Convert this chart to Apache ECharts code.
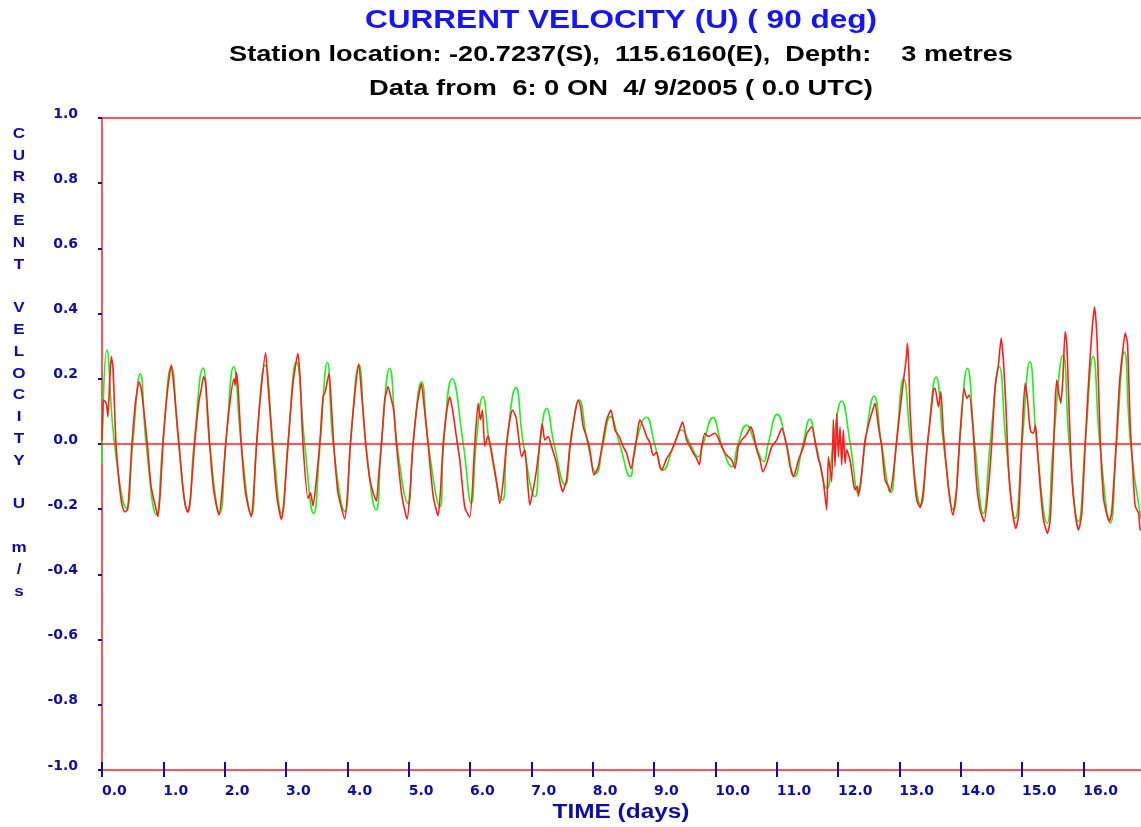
<!DOCTYPE html>
<html>
<head>
<meta charset="utf-8">
<title>Current velocity (U)</title>
<script src="https://cdn.jsdelivr.net/npm/echarts@6/dist/echarts.min.js"></script>
<style>
  html, body { margin: 0; padding: 0; background: #ffffff; }
  #chart { width: 1141px; height: 827px; }
</style>
</head>
<body>
<div id="chart"></div>
<script>
// ---- Text ----
const chartTitle = 'CURRENT VELOCITY (U) ( 90 deg)';
const stationLine = 'Station location: -20.7237(S),  115.6160(E),  Depth:    3 metres';
const periodLine = 'Data from  6: 0 ON  4/ 9/2005 ( 0.0 UTC)';
const xAxisName = 'TIME (days)';
const yNameLetters = ['C','U','R','R','E','N','T','','V','E','L','O','C','I','T','Y','','U','','m','/','s'];

// ---- Axis ranges and ticks (days, m/s) ----
const timeRange = [0, 16.94];
const dayTicks = [0, 1, 2, 3, 4, 5, 6, 7, 8, 9, 10, 11, 12, 13, 14, 15, 16];
const velocityRange = [-1, 1];

// ---- Predicted tidal current, U component [day, m/s] ----
const predicted = [
  [0.0,-0.06],[0.08,0.288],[0.205,0],[0.40,-0.197],[0.50,0],[0.625,0.215],[0.72,0],[0.886,-0.218],
  [0.99,0],[1.13,0.237],[1.25,0],[1.40,-0.205],[1.50,0],[1.646,0.233],[1.755,0],[1.92,-0.212],
  [2.02,0],[2.147,0.237],[2.27,0],[2.435,-0.218],[2.52,0],[2.66,0.242],[2.79,0],[2.93,-0.213],
  [3.03,0],[3.17,0.252],[3.305,0],[3.45,-0.213],[3.555,0],[3.675,0.25],[3.77,0],[3.96,-0.207],
  [4.05,0],[4.19,0.242],[4.30,0],[4.47,-0.202],[4.556,0],[4.69,0.232],[4.81,0],[4.99,-0.182],
  [5.07,0],[5.21,0.191],[5.32,0],[5.51,-0.192],[5.57,0],[5.71,0.2],[5.89,0],[6.02,-0.182],
  [6.10,0],[6.21,0.145],[6.32,0],[6.53,-0.172],[6.60,0],[6.75,0.173],[6.87,0],[7.06,-0.162],
  [7.14,0],[7.25,0.109],[7.37,0],[7.55,-0.126],[7.64,0],[7.78,0.135],[7.92,0],[8.06,-0.09],
  [8.17,0],[8.29,0.084],[8.44,0],[8.61,-0.1],[8.70,0],[8.88,0.082],[9.01,0],[9.15,-0.08],
  [9.33,0],[9.45,0.043],[9.59,0],[9.72,-0.039],[9.80,0],[9.96,0.081],[10.1,0],[10.27,-0.07],
  [10.37,0],[10.51,0.058],[10.65,0],[10.79,-0.054],[10.86,0],[11.01,0.091],[11.16,0],[11.29,-0.1],
  [11.43,0],[11.54,0.076],[11.64,0],[11.82,-0.136],[11.92,0],[12.06,0.132],[12.2,0],[12.33,-0.151],
  [12.44,0],[12.59,0.147],[12.71,0],[12.86,-0.149],[12.95,0],[13.07,0.2],[13.19,0],[13.35,-0.187],
  [13.46,0],[13.6,0.205],[13.72,0],[13.88,-0.202],[13.98,0],[14.11,0.232],[14.23,0],[14.37,-0.213],
  [14.48,0],[14.63,0.237],[14.74,0],[14.89,-0.228],[15.0,0],[15.13,0.252],[15.24,0],[15.41,-0.243],
  [15.51,0],[15.67,0.273],[15.77,0],[15.92,-0.238],[16.03,0],[16.16,0.268],[16.27,0],[16.44,-0.243],
  [16.54,0],[16.67,0.283],[16.77,0],[16.94,-0.23]
];

// ---- Measured current, U component [day, m/s] ----
const observed = [
  [0.0,0.01],[0.01,0.094],[0.026,0.135],[0.07,0.125],[0.097,0.084],[0.124,0.186],[0.151,0.268],[0.178,0.237],
  [0.206,0.104],[0.228,0.0],[0.28,-0.12],[0.33,-0.19],[0.37,-0.208],[0.42,-0.2],[0.488,0.0],[0.54,0.12],
  [0.57,0.16],[0.602,0.191],[0.64,0.17],[0.739,0.0],[0.80,-0.13],[0.87,-0.19],[0.912,-0.223],[0.95,-0.15],
  [0.994,0.0],[1.06,0.15],[1.13,0.242],[1.17,0.18],[1.255,0.0],[1.31,-0.12],[1.36,-0.19],[1.40,-0.21],
  [1.44,-0.17],[1.51,0.0],[1.58,0.13],[1.62,0.17],[1.657,0.207],[1.69,0.19],[1.755,0.0],[1.82,-0.14],
  [1.907,-0.218],[1.95,-0.16],[2.016,0.0],[2.08,0.12],[2.15,0.2],[2.17,0.18],[2.19,0.22],[2.22,0.17],
  [2.27,0.0],[2.34,-0.15],[2.435,-0.223],[2.47,-0.16],[2.52,0.0],[2.59,0.16],[2.668,0.28],[2.70,0.2],
  [2.778,0.0],[2.85,-0.16],[2.924,-0.231],[2.96,-0.19],[3.034,0.0],[3.11,0.18],[3.196,0.278],[3.23,0.2],
  [3.277,0.0],[3.359,-0.167],[3.40,-0.15],[3.441,-0.19],[3.49,-0.12],[3.55,0.0],[3.604,0.145],[3.64,0.16],
  [3.702,0.217],[3.74,0.12],[3.778,0.0],[3.84,-0.14],[3.876,-0.175],[3.958,-0.23],[4.0,-0.16],[4.05,0.0],
  [4.12,0.15],[4.186,0.246],[4.23,0.16],[4.30,0.0],[4.36,-0.1],[4.419,-0.149],[4.474,-0.175],[4.51,-0.1],
  [4.556,0.0],[4.61,0.135],[4.665,0.176],[4.72,0.135],[4.757,0.104],[4.80,0.0],[4.89,-0.16],[4.975,-0.23],
  [5.02,-0.15],[5.072,0.0],[5.14,0.12],[5.208,0.185],[5.25,0.12],[5.317,0.0],[5.40,-0.16],[5.48,-0.22],
  [5.52,-0.14],[5.562,0.0],[5.62,0.1],[5.671,0.145],[5.72,0.1],[5.78,0.02],[5.834,-0.049],[5.915,-0.194],
  [5.997,-0.225],[6.078,0.0],[6.133,0.125],[6.171,0.074],[6.203,0.104],[6.241,-0.006],[6.296,0.025],[6.35,-0.023],
  [6.432,-0.115],[6.486,-0.182],[6.541,-0.115],[6.595,0.0],[6.65,0.074],[6.693,0.104],[6.748,0.084],[6.786,0.033],
  [6.84,-0.039],[6.894,-0.018],[6.938,-0.115],[6.976,-0.187],[7.03,-0.14],[7.085,-0.079],[7.139,0.004],[7.177,0.063],
  [7.22,0.012],[7.275,0.023],[7.329,-0.008],[7.411,-0.059],[7.465,-0.115],[7.509,-0.146],[7.574,-0.11],[7.628,-0.008],
  [7.683,0.063],[7.764,0.135],[7.802,0.114],[7.846,0.053],[7.9,0.023],[7.955,-0.018],[8.02,-0.095],[8.091,-0.07],
  [8.162,0.004],[8.227,0.074],[8.298,0.104],[8.363,0.043],[8.433,0.023],[8.498,-0.008],[8.553,-0.028],[8.624,-0.075],
  [8.689,-0.018],[8.743,0.053],[8.77,0.074],[8.824,0.053],[8.879,0.023],[8.933,0.004],[8.988,-0.035],[9.042,-0.025],
  [9.097,-0.07],[9.124,-0.08],[9.206,-0.045],[9.288,-0.02],[9.34,0.004],[9.397,0.033],[9.466,0.068],[9.532,0.012],
  [9.586,-0.008],[9.64,-0.028],[9.695,-0.044],[9.739,-0.064],[9.777,-0.008],[9.831,0.033],[9.886,0.023],[9.94,0.028],
  [9.994,0.033],[10.048,0.018],[10.103,-0.008],[10.157,-0.028],[10.211,-0.039],[10.266,-0.049],[10.32,-0.075],[10.375,-0.008],
  [10.43,0.012],[10.483,0.023],[10.522,0.033],[10.576,0.053],[10.62,0.033],[10.674,-0.018],[10.729,-0.049],[10.773,-0.085],
  [10.838,-0.059],[10.92,-0.008],[11.0,0.012],[11.083,0.048],[11.165,-0.008],[11.22,-0.07],[11.274,-0.1],[11.356,-0.049],
  [11.438,-0.008],[11.492,0.033],[11.574,0.053],[11.628,0.004],[11.683,-0.049],[11.706,-0.059],[11.761,-0.115],[11.815,-0.202],
  [11.843,-0.039],[11.897,-0.115],[11.924,0.074],[11.951,-0.069],[11.979,0.094],[12.006,-0.039],[12.033,0.053],[12.06,-0.064],
  [12.087,0.043],[12.115,-0.059],[12.142,-0.018],[12.196,-0.049],[12.251,-0.12],[12.278,-0.14],[12.316,-0.13],[12.332,-0.16],
  [12.387,-0.089],[12.441,0.012],[12.496,0.058],[12.55,0.094],[12.604,0.125],[12.659,0.053],[12.713,-0.008],[12.767,-0.11],
  [12.822,-0.13],[12.849,-0.146],[12.903,-0.089],[12.958,0.012],[13.012,0.104],[13.067,0.196],[13.11,0.257],[13.132,0.309],
  [13.154,0.237],[13.175,0.104],[13.23,-0.07],[13.284,-0.172],[13.339,-0.195],[13.393,-0.14],[13.447,-0.018],[13.502,0.074],
  [13.556,0.166],[13.583,0.171],[13.637,0.114],[13.676,0.161],[13.719,0.033],[13.8,-0.13],[13.871,-0.218],[13.937,-0.13],
  [13.991,0.033],[14.056,0.171],[14.1,0.14],[14.143,0.15],[14.198,0.053],[14.263,-0.13],[14.317,-0.202],[14.383,-0.238],
  [14.453,-0.13],[14.508,0.004],[14.562,0.176],[14.615,0.242],[14.66,0.324],[14.697,0.257],[14.74,0.104],[14.778,-0.07],
  [14.833,-0.19],[14.898,-0.259],[14.942,-0.223],[14.997,0.014],[15.05,0.186],[15.09,0.135],[15.116,0.074],[15.143,0.038],
  [15.187,0.033],[15.22,0.058],[15.252,-0.018],[15.296,-0.13],[15.35,-0.233],[15.415,-0.274],[15.459,-0.233],[15.513,-0.018],
  [15.54,0.125],[15.567,0.196],[15.6,0.155],[15.632,0.125],[15.665,0.196],[15.703,0.344],[15.73,0.309],[15.768,0.104],
  [15.812,-0.1],[15.866,-0.212],[15.921,-0.264],[15.975,-0.212],[16.03,0.0],[16.084,0.186],[16.138,0.34],[16.182,0.421],
  [16.209,0.37],[16.23,0.288],[16.274,0.02],[16.328,-0.164],[16.383,-0.216],[16.426,-0.237],[16.464,-0.207],[16.535,0.0],
  [16.589,0.186],[16.644,0.288],[16.682,0.34],[16.72,0.309],[16.763,0.063],[16.807,-0.079],[16.845,-0.19],[16.9,-0.212],
  [16.927,-0.264],[16.94,-0.26]
];

// ---- Styling ----
const AXIS_BLUE = '#0d0da6';
const TITLE_BLUE = '#1414ff';
const LINE_RED = '#ff1e1e';
const LINE_GREEN = '#20ee20';
const ARIAL = '"Liberation Sans", Arial, sans-serif';
const WIDE = '"DejaVu Sans", Verdana, sans-serif';

const chart = echarts.init(document.getElementById('chart'), null, { renderer: 'canvas' });

const oneDecimal = v => {
  const r = Math.round(v * 10) / 10;
  return (Math.abs(r) < 1e-9 ? 0 : r).toFixed(1);
};

// Horizontally widened text block (the chart's lettering is set wide)
function textEl(text, x, y, font, fill, scaleX) {
  return {
    type: 'text', x: x, y: y, scaleX: scaleX, silent: true,
    style: {
      text: text, font: font, fill: fill,
      textAlign: 'center', align: 'center',
      textVerticalAlign: 'middle', verticalAlign: 'middle'
    }
  };
}

const option = {
  animation: false,
  backgroundColor: '#ffffff',
  grid: { left: 102, right: 0, top: 118, bottom: 57, containLabel: false },
  xAxis: [
    {
      type: 'value', min: timeRange[0], max: timeRange[1], interval: 1, position: 'bottom',
      axisLine: { show: true, onZero: false, lineStyle: { color: LINE_RED, width: 1.5 } },
      axisTick: {
        show: true, inside: false, length: 7, customValues: dayTicks,
        lineStyle: { color: AXIS_BLUE, width: 2 }
      },
      axisLabel: {
        show: true, margin: 14, align: 'left', color: AXIS_BLUE,
        fontFamily: WIDE, fontWeight: 'bold', fontSize: 14,
        customValues: dayTicks,
        formatter: v => oneDecimal(v)
      },
      splitLine: { show: false }
    },
    {
      // upper half of the day ticks, crossing the bottom axis line
      type: 'value', min: timeRange[0], max: timeRange[1], interval: 1, position: 'top', offset: -652,
      axisLine: { show: false },
      axisTick: {
        show: true, inside: false, length: 8, customValues: dayTicks,
        lineStyle: { color: AXIS_BLUE, width: 2 }
      },
      axisLabel: { show: false },
      splitLine: { show: false }
    }
  ],
  yAxis: {
    type: 'value', min: velocityRange[0], max: velocityRange[1], interval: 0.2,
    axisLine: { show: true, onZero: false, lineStyle: { color: LINE_RED, width: 1.5 } },
    axisTick: { show: true, inside: false, length: 4, lineStyle: { color: AXIS_BLUE, width: 2 } },
    axisLabel: {
      margin: 24, color: AXIS_BLUE, fontFamily: WIDE, fontWeight: 'bold', fontSize: 14,
      verticalAlign: 'bottom', lineHeight: 8,
      formatter: v => oneDecimal(v)
    },
    splitLine: { show: false }
  },
  series: [
    {
      name: 'Predicted', type: 'line', xAxisIndex: 0, data: predicted,
      showSymbol: false, symbol: 'none', smooth: 0.5, silent: true,
      lineStyle: { color: LINE_GREEN, width: 1.6 },
      markLine: {
        silent: true, symbol: 'none', label: { show: false },
        lineStyle: { color: LINE_RED, width: 1.5, type: 'solid' },
        data: [{ yAxis: 0 }, { yAxis: 1 }]
      }
    },
    {
      name: 'Observed', type: 'line', xAxisIndex: 0, data: observed,
      showSymbol: false, symbol: 'none', smooth: 0.2, silent: true,
      lineStyle: { color: LINE_RED, width: 1.6 }
    }
  ],
  graphic: [
    textEl(chartTitle, 621, 21, 'bold 25px ' + ARIAL, TITLE_BLUE, 1.263),
    textEl(stationLine, 621, 55, 'bold 22px ' + ARIAL, '#000000', 1.233),
    textEl(periodLine, 621, 89, 'bold 22px ' + ARIAL, '#000000', 1.245),
    textEl(xAxisName, 621, 812, 'bold 20px ' + ARIAL, AXIS_BLUE, 1.22),
    {
      type: 'text', x: 19, y: 123, scaleX: 1.22, silent: true,
      style: {
        text: yNameLetters.join('\n'), font: 'bold 14px ' + ARIAL, fill: AXIS_BLUE,
        lineHeight: 21.8, textAlign: 'center', align: 'center',
        textVerticalAlign: 'top', verticalAlign: 'top'
      }
    }
  ]
};

chart.setOption(option);
</script>
</body>
</html>
